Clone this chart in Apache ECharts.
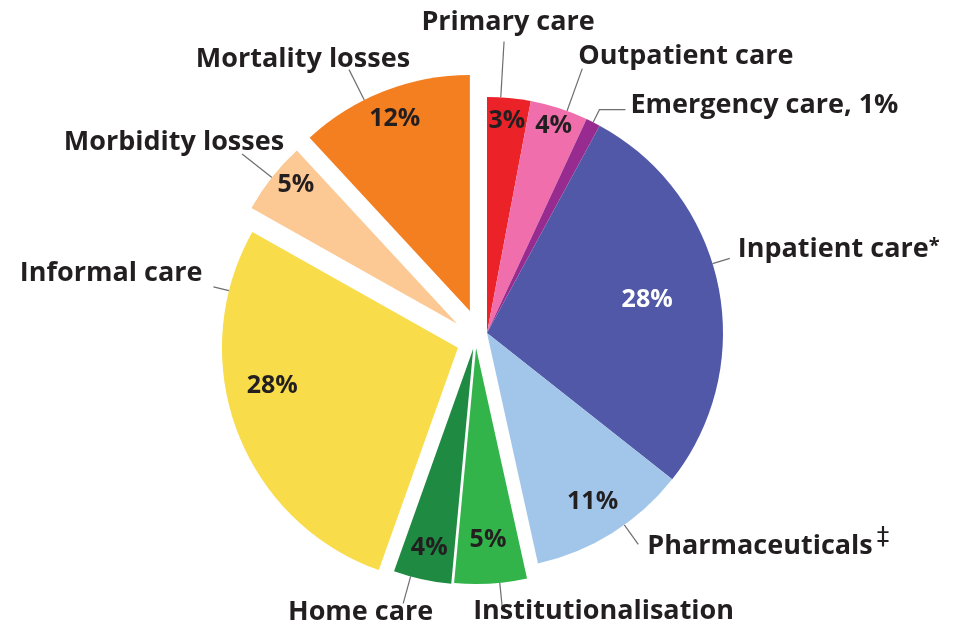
<!DOCTYPE html>
<html>
<head>
<meta charset="utf-8">
<script src="https://cdn.jsdelivr.net/npm/echarts@6/dist/echarts.min.js"></script>
<style>
  html, body { margin: 0; padding: 0; background: #ffffff; }
  #chart { width: 961px; height: 630px; }
</style>
</head>
<body>
<div id="chart"></div>
<script>
// ---------------- data ----------------
const categories = ['Primary care', 'Outpatient care', 'Emergency care', 'Inpatient care', 'Pharmaceuticals',
  'Institutionalisation', 'Home care', 'Informal care', 'Morbidity losses', 'Mortality losses'];
const shares = [3, 4, 1, 28, 11, 5, 4, 28, 5, 12];
const pctLabels = ['3%', '4%', '', '28%', '11%', '5%', '4%', '28%', '5%', '12%'];
const nameLabels = ['Primary care', 'Outpatient care', 'Emergency care, 1%', '{n|Inpatient care}{s|*}',
  '{n|Pharmaceuticals}{d|\u2021}', 'Institutionalisation', 'Home care', 'Informal care', 'Morbidity losses', 'Mortality losses'];

// ---------------- styles ----------------
const colors = ['#ec2229', '#ef6eab', '#972b8f', '#5158a7', '#a2c6ea', '#33b44a', '#1f8a42', '#f8dc4a', '#fcc893', '#f47f21'];
// exploded slices: distance (px) and direction (degrees clockwise from 12 o'clock)
const explodeDist = [0, 0, 0, 0, 0, 18.6, 21, 32.6, 31.3, 27.8];
const explodeDir  = [0, 0, 0, 0, 0, 216, 221, 243, 287, 322];
const pctRadius = [0.89, 0.91, 0.5, 0.68, 0.83, 0.80, 0.85, 0.79, 0.89, 0.86];
const pctShift = [0, 0, 0, 0, 0, 0, 0, 9, 2.5, 0];
const pctColor = ['#231f20', '#231f20', '#231f20', '#ffffff', '#231f20', '#231f20', '#231f20', '#231f20', '#231f20', '#231f20'];
const nameStyle = [
  { shift: -2,   len: 56, len2: 0,  dx: 4,    dy: -6,  align: 'center', va: 'bottom' },
  { shift: 2,    len: 45, len2: 0,  dx: -4,   dy: 1,   align: 'left',   va: 'bottom' },
  { shift: 0,    len: 14, len2: 26, dx: 5,    dy: -4,  align: 'left',   va: 'middle' },
  { shift: -5.5, len: 18, len2: 0,  dx: 8,    dy: -9,  align: 'left',   va: 'middle' },
  { shift: -3.5, len: 24, len2: 0,  dx: 9,    dy: -2,  align: 'left',   va: 'middle' },
  { shift: -2.2, len: 24, len2: 0,  dx: -29,  dy: -9,  align: 'left',   va: 'top' },
  { shift: 2.9,  len: 28, len2: 0,  dx: 30,   dy: -5,  align: 'right',  va: 'top' },
  { shift: 34.5, len: 16, len2: 0,  dx: -11,  dy: -14, align: 'right',  va: 'middle' },
  { shift: 0,    len: 38, len2: 0,  dx: 42,   dy: 2,   align: 'right',  va: 'bottom' },
  { shift: -5.2, len: 34, len2: 0,  dx: 61,   dy: 3,   align: 'right',  va: 'bottom' }
];
const FONT = '"Open Sans", "Liberation Sans", sans-serif';
const TEXT = '#231f20';
const CENTER = [487, 333];
const R = 236;

function centerOf(i) {
  const a = explodeDir[i] * Math.PI / 180;
  return [CENTER[0] + explodeDist[i] * Math.sin(a), CENTER[1] - explodeDist[i] * Math.cos(a)];
}

function items(i, kind) {
  return shares.map((v, j) => {
    const me = j === i;
    return {
      value: v,
      name: categories[j],
      itemStyle: { color: (kind === 'sector' && me) ? colors[j] : 'rgba(0,0,0,0)', borderWidth: 0 },
      label: { show: me && kind !== 'sector' && !(kind === 'pct' && pctLabels[j] === '') },
      labelLine: { show: me && kind === 'name' }
    };
  });
}

const base = {
  type: 'pie', clockwise: true, avoidLabelOverlap: false,
  emphasis: { disabled: true }, animation: false, minShowLabelAngle: 0
};

const series = [];
// sectors
categories.forEach((c, i) => {
  series.push(Object.assign({}, base, {
    name: 'sector' + i, center: centerOf(i), radius: [0, R], startAngle: 90,
    label: { show: false }, labelLine: { show: false },
    data: items(i, 'sector')
  }));
});
// percentage labels
categories.forEach((c, i) => {
  series.push(Object.assign({}, base, {
    name: 'pct' + i, silent: true, center: centerOf(i), radius: [(2 * pctRadius[i] - 1) * R, R],
    startAngle: 90 - pctShift[i],
    label: { position: 'inside', formatter: () => pctLabels[i], color: pctColor[i],
      fontFamily: FONT, fontSize: 25, fontWeight: 'bold' },
    labelLine: { show: false },
    data: items(i, 'pct')
  }));
});
// category name labels with leader lines
categories.forEach((c, i) => {
  const st = nameStyle[i];
  series.push(Object.assign({}, base, {
    name: 'name' + i, silent: true, center: centerOf(i), radius: [0, R],
    startAngle: 90 - st.shift,
    label: {
      position: 'outside', formatter: () => nameLabels[i], color: TEXT,
      fontFamily: FONT, fontSize: 27, fontWeight: 'bold',
      rich: {
        n: { fontFamily: FONT, fontSize: 27, fontWeight: 'bold', color: TEXT, verticalAlign: 'bottom' },
        s: { fontFamily: FONT, fontSize: 20, fontWeight: 'bold', color: TEXT, verticalAlign: 'top' },
        d: { fontFamily: '"DejaVu Sans", sans-serif', fontSize: 25, fontWeight: 'normal', color: TEXT,
             verticalAlign: 'top', padding: [0, 0, 10, 4] }
      }
    },
    labelLine: { show: true, length: st.len, length2: st.len2, smooth: false,
      lineStyle: { color: '#6d6e71', width: 1.2 } },
    labelLayout: function (p) {
      if (p.dataIndex !== i || !p.labelLinePoints) return {};
      const pts = p.labelLinePoints;
      const e = pts[pts.length - 1];
      return { x: e[0] + st.dx, y: e[1] + st.dy, align: st.align, verticalAlign: st.va, labelLinePoints: pts };
    },
    data: items(i, 'name')
  }));
});

const chart = echarts.init(document.getElementById('chart'), null, { renderer: 'canvas' });
chart.setOption({
  backgroundColor: '#ffffff',
  animation: false,
  series: series
});
</script>
</body>
</html>
